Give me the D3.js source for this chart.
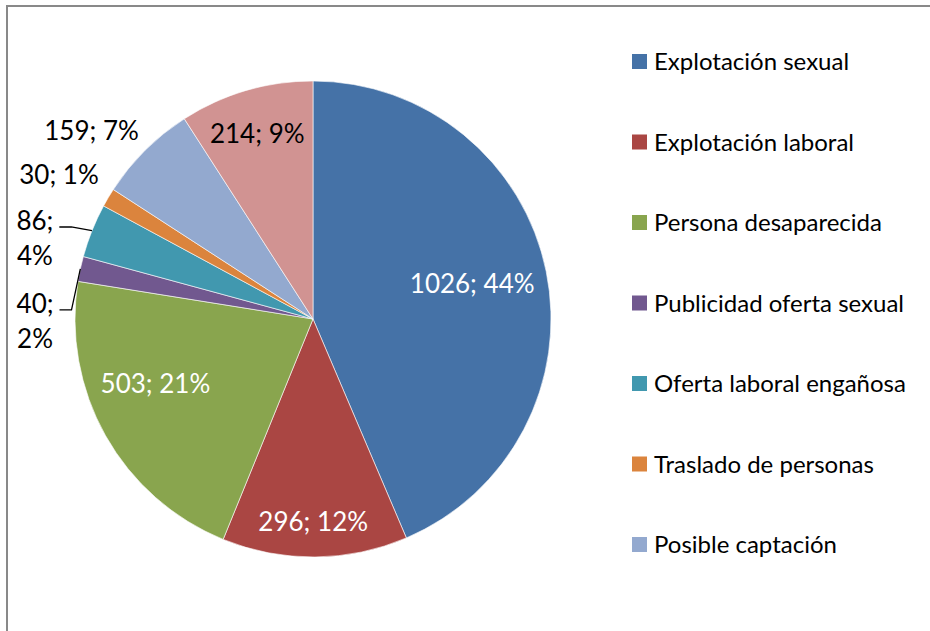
<!DOCTYPE html>
<html><head><meta charset="utf-8">
<script src="https://cdn.jsdelivr.net/npm/d3@7"></script>
<style>body{margin:0;background:#fff}svg{display:block}text{font-family:Lato,"Noto Sans",sans-serif}</style>
</head><body>
<svg id="c" width="930" height="631"></svg>
<script>
// ---- data ----
const categories = ["Explotación sexual","Explotación laboral","Persona desaparecida","Publicidad oferta sexual","Oferta laboral engañosa","Traslado de personas","Posible captación","Otros"];
const values = [1026, 296, 503, 40, 86, 30, 159, 214];
const percents = [44, 12, 21, 2, 4, 1, 7, 9];
const legendShown = 7; // legend is clipped by the chart area in the original

// ---- styles / layout ----
const colors = ["#4572A7","#AA4643","#89A54E","#71588F","#4198AF","#DB843D","#93A9CF","#D19392"];
const cx = 313, cy = 319, R = 238;
// label placement: radius factor and angular offset (deg) from slice mid-angle
const labelLayout = [
  {r:0.685, da:-0.9, inside:true},
  {r:0.853, da:0.4, inside:true},
  {r:0.716, da:7, inside:true},
  {r:1.168, da:-12.6, wrap:true, leader:true},
  {r:1.217, da:-5.6, wrap:true, leader:true},
  {r:1.227, da:-1.1},
  {r:1.222, da:-4.7},
  {r:0.812, da:-0.4, inside:true, dark:true}
];
const labelFont = 26, legendFont = 24, lineGap = 34.5;

const svg = d3.select("#c");
// chart area border (only top and left visible)
svg.append("path").attr("d","M7,640 L7,6 L940,6").attr("fill","none").attr("stroke","#898989").attr("stroke-width",2);

const pie = d3.pie().sort(null).value(d=>d);
const arcs = pie(values);
const arc = d3.arc().innerRadius(0).outerRadius(R);
const g = svg.append("g").attr("transform",`translate(${cx},${cy})`);
g.selectAll("path.s").data(arcs).join("path").attr("class","s")
  .attr("d",arc).attr("fill",(d,i)=>colors[i]).attr("stroke","#fff").attr("stroke-width",0.6);

const polar = (ang, r) => [r*Math.sin(ang), -r*Math.cos(ang)];
const rad = d => d*Math.PI/180;

arcs.forEach((a,i)=>{
  const L = labelLayout[i];
  const mid = (a.startAngle+a.endAngle)/2;
  const [x,y] = polar(mid + rad(L.da), L.r*R);
  const txt = `${values[i]}; ${percents[i]}%`;
  const fill = L.inside && !L.dark ? "#fff" : "#000";
  if (L.wrap) {
    const lines = [`${values[i]};`, `${percents[i]}%`];
    const t = g.append("text").attr("font-size",labelFont).attr("fill",fill).attr("text-anchor","middle");
    lines.forEach((ln,k)=>{
      t.append("tspan").attr("x",x).attr("y", y + (k-0.5)*lineGap).attr("dy","0.36em").text(ln);
    });
    if (L.leader) {
      const firstLineW = t.select("tspan").node().getComputedTextLength();
      const ly = y - 0.5*lineGap + 6;
      const x0 = x + firstLineW/2 + 6;
      const [ex,ey] = polar(mid, R);
      const x1 = x0 + 12;
      g.append("path").attr("d",`M${x0},${ly} L${x1},${ly} L${ex},${ey}`)
        .attr("fill","none").attr("stroke","#000").attr("stroke-width",1.3);
    }
  } else {
    g.append("text").attr("x",x).attr("y",y).attr("dy","0.36em").attr("text-anchor","middle")
      .attr("font-size",labelFont).attr("fill",fill).text(txt);
  }
});

// legend
const legend = svg.append("g").attr("transform","translate(632,61.5)");
const items = legend.selectAll("g").data(categories.slice(0,legendShown)).join("g")
  .attr("transform",(d,i)=>`translate(0,${i*80.5})`);
items.append("rect").attr("x",0).attr("y",-7.5).attr("width",15).attr("height",15).attr("fill",(d,i)=>colors[i]);
items.append("text").attr("x",22).attr("y",0).attr("dy","0.36em").attr("font-size",legendFont).attr("fill","#000").text(d=>d);
</script>
</body></html>
